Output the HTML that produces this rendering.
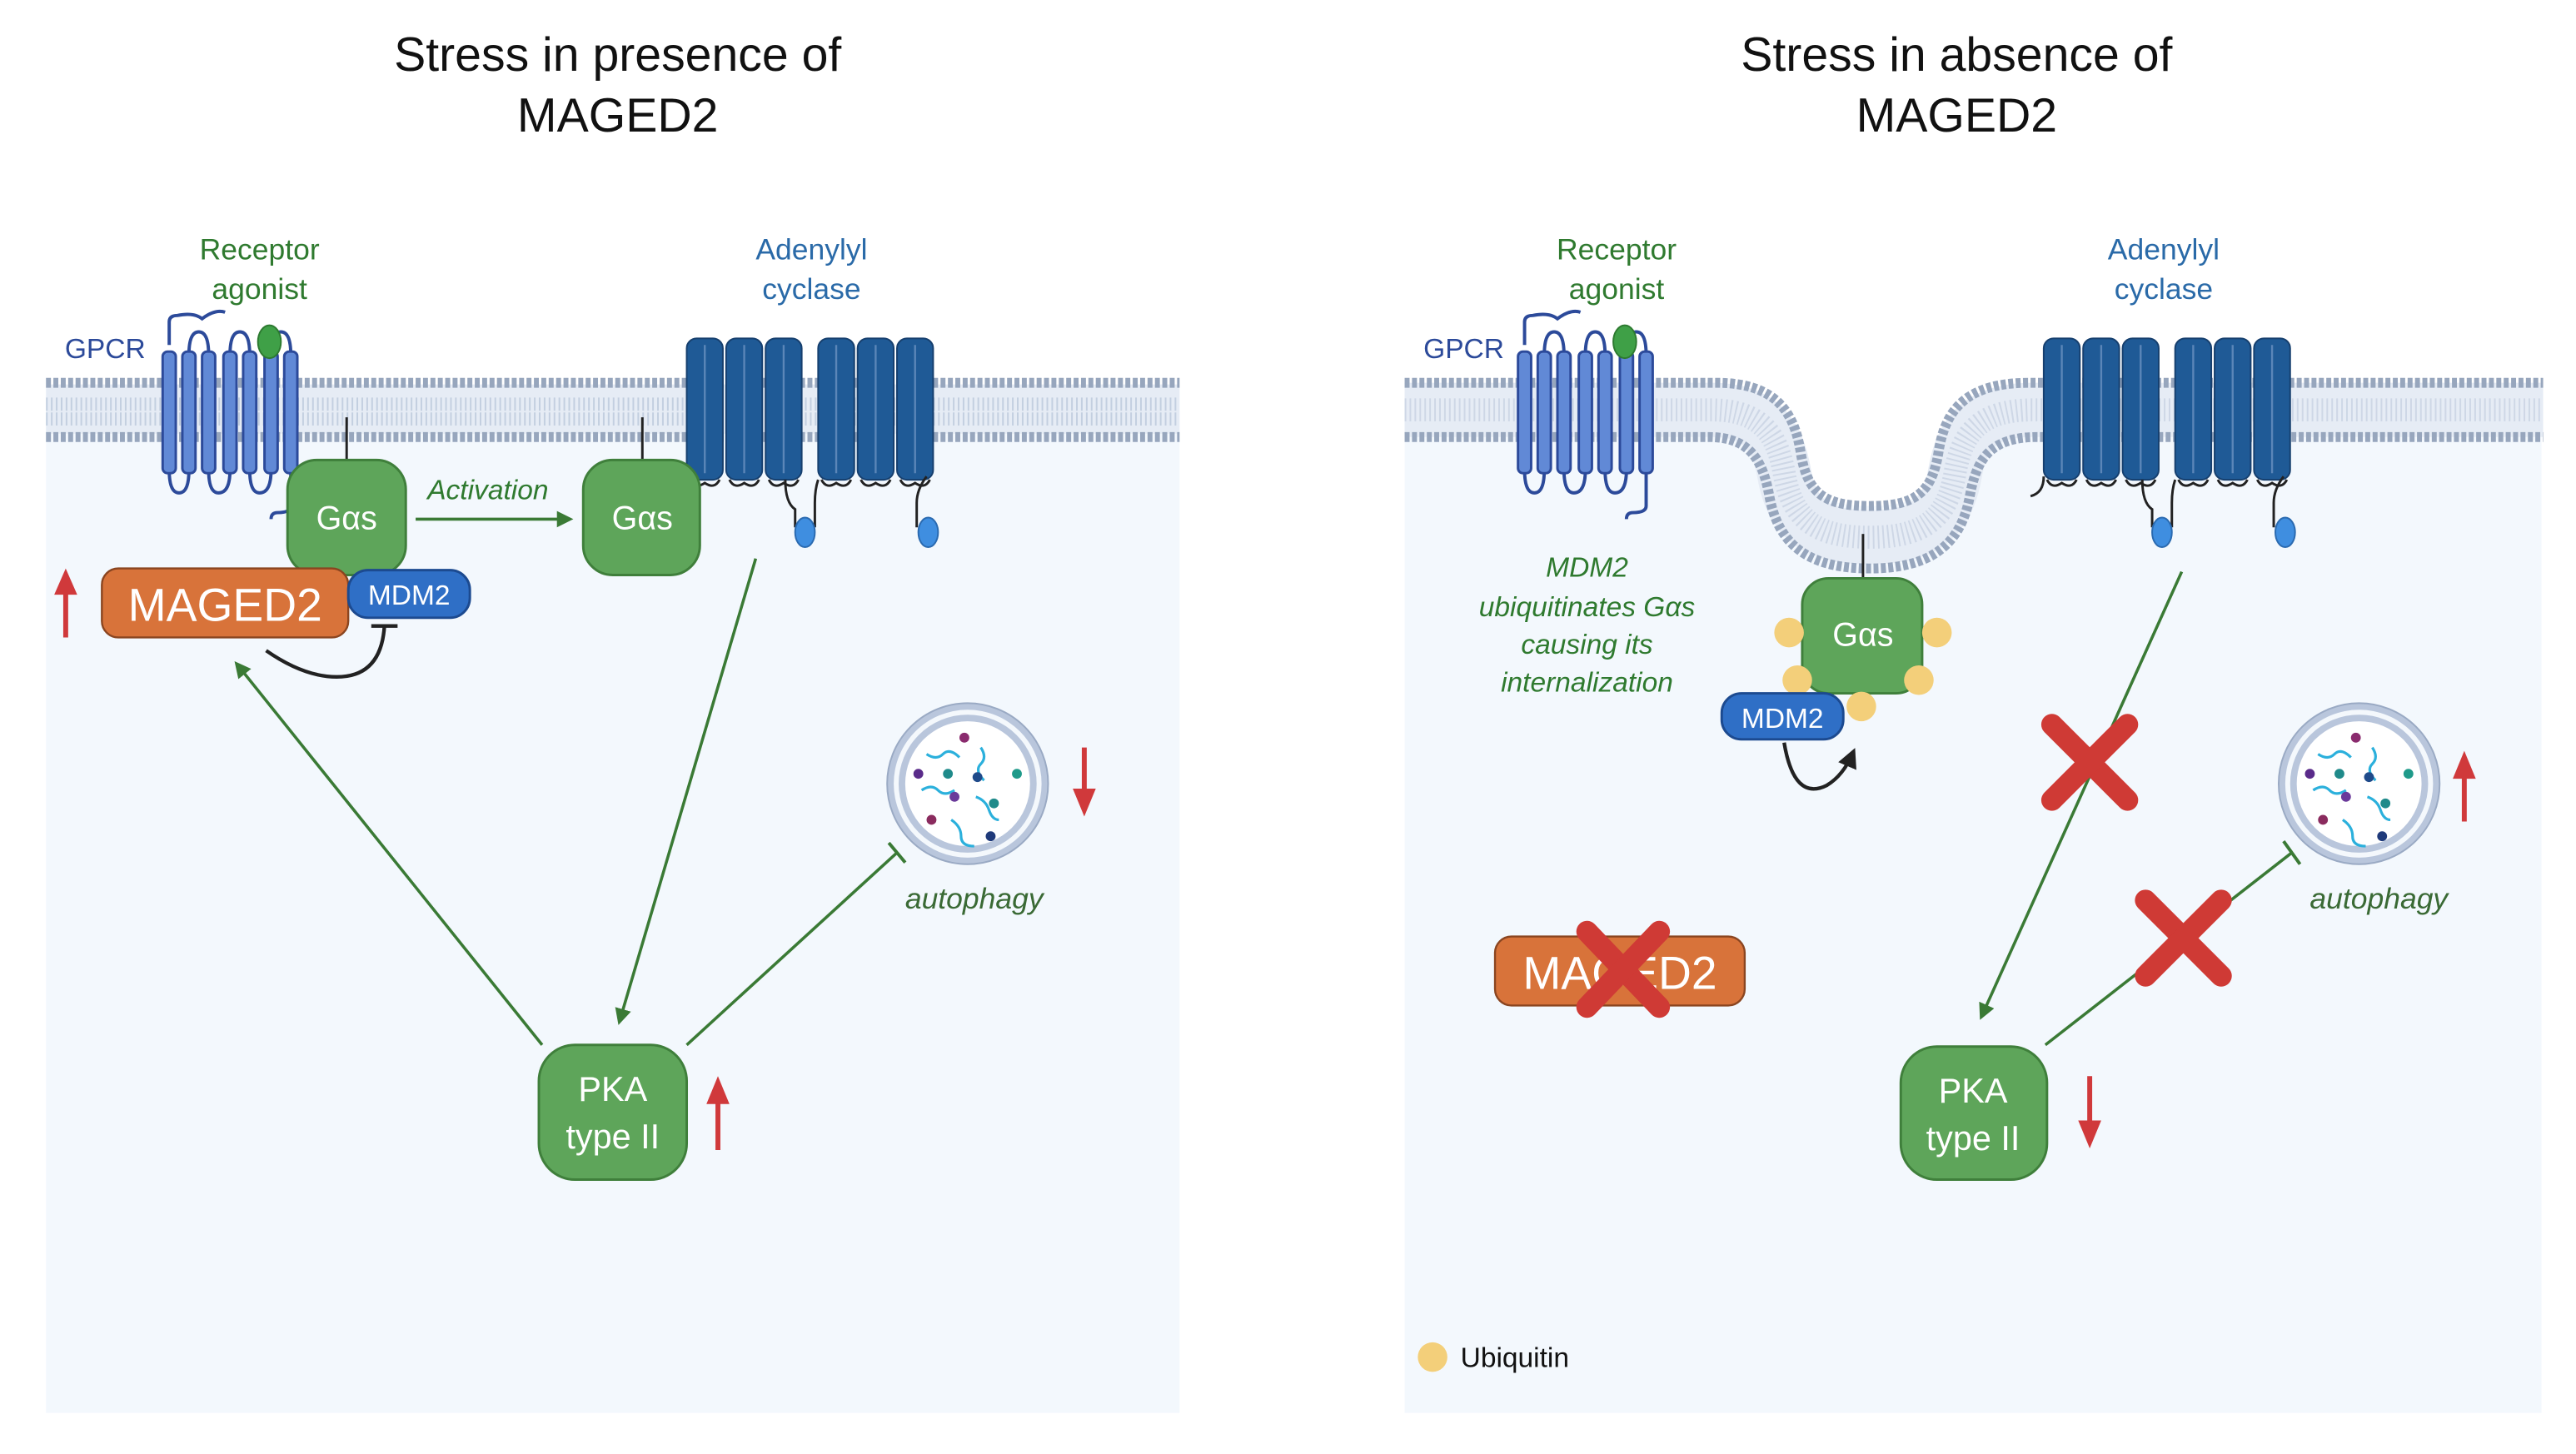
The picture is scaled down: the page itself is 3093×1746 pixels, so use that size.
<!DOCTYPE html>
<html><head><meta charset="utf-8"><style>
html,body{margin:0;padding:0;background:#fff}
svg{display:block}
text{font-family:"Liberation Sans",sans-serif}
</style></head><body>
<svg width="3093" height="1746" viewBox="0 0 1568 885" preserveAspectRatio="none" xmlns="http://www.w3.org/2000/svg">
<defs>
<marker id="ag" markerWidth="10" markerHeight="10" refX="8" refY="5" orient="auto" markerUnits="userSpaceOnUse"><path d="M0,0 L10,5 L0,10 Z" fill="#3a7a35"/></marker>
<marker id="ab" markerWidth="12" markerHeight="12" refX="9" refY="6" orient="auto" markerUnits="userSpaceOnUse"><path d="M0,0 L12,6 L0,12 Z" fill="#222"/></marker>
<g id="gpcr">
  <path d="M0,12 V-2 Q0,-6 5,-6 Q15,-8 20,-4 Q28,-10 34,-8" fill="none" stroke="#2c4a9a" stroke-width="2"/>
  <g fill="none" stroke="#2c4a9a" stroke-width="2">
    <path d="M12,18 Q12,4 18,4 Q24,4 24,18"/>
    <path d="M37,18 Q37,4 43,4 Q49,4 49,18"/>
    <path d="M62,18 Q62,4 68,4 Q74,4 74,18"/>
    <path d="M0,88 Q0,102 6,102 Q12,102 12,88"/>
    <path d="M24,88 Q24,102 30,102 Q37,102 37,88"/>
    <path d="M49,88 Q49,102 55,102 Q62,102 62,88"/>
    <path d="M74,88 V110 Q74,114 66,114 Q62,114 62,118"/>
  </g>
  <g fill="#6189d6" stroke="#2c4a9a" stroke-width="1.5">
    <rect x="-4" y="16" width="8" height="74" rx="3"/>
    <rect x="8" y="16" width="8" height="74" rx="3"/>
    <rect x="20" y="16" width="8" height="74" rx="3"/>
    <rect x="33" y="16" width="8" height="74" rx="3"/>
    <rect x="45" y="16" width="8" height="74" rx="3"/>
    <rect x="58" y="16" width="8" height="74" rx="3"/>
    <rect x="70" y="16" width="8" height="74" rx="3"/>
  </g>
  <ellipse cx="61" cy="10" rx="7" ry="10" fill="#3fa047" stroke="#2d7a30" stroke-width="1"/>
</g>
<g id="hp">
  <rect x="0" y="0" width="22" height="86" rx="6" fill="#1f5a96" stroke="#163f6e" stroke-width="1"/>
  <line x1="11" y1="4" x2="11" y2="82" stroke="#5b86b8" stroke-width="1.2"/>
  <path d="M2,86 Q5,92 11,88 Q17,92 20,86" fill="none" stroke="#222" stroke-width="1.5"/>
</g>
<g id="ac">
  <use href="#hp" x="0"/><use href="#hp" x="24"/><use href="#hp" x="48"/>
  <use href="#hp" x="80"/><use href="#hp" x="104"/><use href="#hp" x="128"/>
  <path d="M60,86 Q60,100 66,104 L66,115 M78,115 V100 Q78,92 80,86" fill="none" stroke="#222" stroke-width="1.5"/>
  <ellipse cx="72" cy="118" rx="6" ry="9" fill="#3f8ee0" stroke="#2a6ab0"/>
  <path d="M140,115 V100 Q140,92 146,84" fill="none" stroke="#222" stroke-width="1.5"/>
  <ellipse cx="147" cy="118" rx="6" ry="9" fill="#3f8ee0" stroke="#2a6ab0"/>
</g>
<g id="auto">
  <circle r="49" fill="#b9c6dc"/><circle r="45" fill="#f4f8fc"/><circle r="42" fill="#b9c6dc"/><circle r="38" fill="#fff"/>
  <circle r="49" fill="none" stroke="#9aaac4" stroke-width="1"/>
  <g fill="none" stroke="#2bb0dc" stroke-width="1.6">
    <path d="M-25,-18 q6,4 10,0 t10,2"/><path d="M8,-22 q4,6 0,10 t2,10"/>
    <path d="M-28,4 q6,-4 10,0 t10,0"/><path d="M5,8 q6,2 8,8 t6,6"/><path d="M-10,22 q6,4 6,10 t8,6"/>
  </g>
  <g><circle cx="-2" cy="-28" r="3" fill="#8a2b6e"/><circle cx="-30" cy="-6" r="3" fill="#5a2b8a"/><circle cx="-12" cy="-6" r="3" fill="#1f8a8a"/><circle cx="6" cy="-4" r="3" fill="#1f4a8a"/><circle cx="30" cy="-6" r="3" fill="#1f9a8a"/><circle cx="-8" cy="8" r="3" fill="#6a3a9a"/><circle cx="16" cy="12" r="3" fill="#1f8a8a"/><circle cx="-22" cy="22" r="3" fill="#8a2b5e"/><circle cx="14" cy="32" r="3" fill="#1f3a7a"/></g>
</g>
</defs>

<!-- panel backgrounds -->
<rect x="28" y="250" width="690" height="610" fill="#f3f8fd"/>
<rect x="855" y="250" width="692" height="610" fill="#f3f8fd"/>

<!-- titles -->
<text x="376" y="43" font-size="29" text-anchor="middle" fill="#111">Stress in presence of</text>
<text x="376" y="80" font-size="29" text-anchor="middle" fill="#111">MAGED2</text>
<text x="1191" y="43" font-size="29" text-anchor="middle" fill="#111">Stress in absence of</text>
<text x="1191" y="80" font-size="29" text-anchor="middle" fill="#111">MAGED2</text>

<!-- left membrane -->
<g>
  <rect x="28" y="234" width="690" height="30" fill="#e6ecf5"/>
  <line x1="28" y1="246" x2="718" y2="246" stroke="#c3cfe0" stroke-width="8" stroke-dasharray="1 2"/>
  <line x1="28" y1="255" x2="718" y2="255" stroke="#c3cfe0" stroke-width="8" stroke-dasharray="1 2"/>
  <line x1="28" y1="233" x2="718" y2="233" stroke="#97a6bd" stroke-width="6" stroke-dasharray="3 1.5"/>
  <line x1="28" y1="266" x2="718" y2="266" stroke="#97a6bd" stroke-width="6" stroke-dasharray="3 1.5"/>
</g>
<!-- right membrane -->
<path d="M855,226 H1548 V233 H1235 C1196,233 1184,250 1180,275 C1176,300 1166,308 1138,308 C1110,308 1100,300 1096,275 C1092,250 1080,233 1045,233 H855 Z" fill="#fff"/>
<g fill="none">
  <path d="M855,249.5 H1042 C1072,249.5 1082,265 1086,288 C1091,318 1108,327 1138,327 C1168,327 1185,318 1190,288 C1194,265 1204,249.5 1237,249.5 H1548" stroke="#e6ecf5" stroke-width="33"/>
  <path d="M855,249.5 H1042 C1072,249.5 1082,265 1086,288 C1091,318 1108,327 1138,327 C1168,327 1185,318 1190,288 C1194,265 1204,249.5 1237,249.5 H1548" stroke="#c3cfe0" stroke-width="14" stroke-dasharray="1 2" opacity="0.7"/>
  <path d="M855,233 H1045 C1080,233 1092,250 1096,275 C1100,300 1110,308 1138,308 C1166,308 1176,300 1180,275 C1184,250 1196,233 1235,233 H1548" stroke="#97a6bd" stroke-width="6" stroke-dasharray="3 1.5"/>
  <path d="M855,266 H1040 C1065,266 1073,280 1077,302 C1083,335 1105,346 1138,346 C1171,346 1193,335 1199,302 C1203,280 1211,266 1240,266 H1548" stroke="#97a6bd" stroke-width="6" stroke-dasharray="3 1.5"/>
</g>

<!-- left GPCR and AC -->
<text x="158" y="158" font-size="18" text-anchor="middle" fill="#2f7a2f">Receptor</text>
<text x="158" y="182" font-size="18" text-anchor="middle" fill="#2f7a2f">agonist</text>
<text x="64" y="218" font-size="17" text-anchor="middle" fill="#2c4a9a">GPCR</text>
<use href="#gpcr" x="103" y="198"/>
<text x="494" y="158" font-size="18" text-anchor="middle" fill="#2a6aa8">Adenylyl</text>
<text x="494" y="182" font-size="18" text-anchor="middle" fill="#2a6aa8">cyclase</text>
<use href="#ac" x="418" y="206"/>

<!-- left Gas -->
<line x1="211" y1="254" x2="211" y2="282" stroke="#222" stroke-width="1.5"/>
<rect x="175" y="280" width="72" height="70" rx="18" fill="#5ea55a" stroke="#3f7f3b" stroke-width="1.5"/>
<text x="211" y="322" font-size="20" text-anchor="middle" fill="#fff">Gαs</text>
<line x1="391" y1="254" x2="391" y2="282" stroke="#222" stroke-width="1.5"/>
<rect x="355" y="280" width="71" height="70" rx="18" fill="#5ea55a" stroke="#3f7f3b" stroke-width="1.5"/>
<text x="391" y="322" font-size="20" text-anchor="middle" fill="#fff">Gαs</text>
<text x="297" y="304" font-size="17" font-style="italic" text-anchor="middle" fill="#2f7a2f">Activation</text>
<line x1="253" y1="316" x2="347" y2="316" stroke="#3a7a35" stroke-width="1.8" marker-end="url(#ag)"/>

<!-- MAGED2/MDM2 -->
<rect x="62" y="346" width="150" height="42" rx="10" fill="#d8733a" stroke="#8a4520" stroke-width="1.2"/>
<text x="137" y="378" font-size="28" text-anchor="middle" fill="#fff">MAGED2</text>
<rect x="212" y="347" width="74" height="29" rx="12" fill="#2f6fc6" stroke="#1c4a90" stroke-width="1.5"/>
<text x="249" y="368" font-size="17" text-anchor="middle" fill="#fff">MDM2</text>
<path d="M40,388 V358" stroke="#d0393b" stroke-width="3"/><path d="M33,362 L40,346 L47,362 Z" fill="#d0393b"/>
<path d="M162,396 Q185,412 205,412 Q232,412 234,381" fill="none" stroke="#222" stroke-width="2.2"/>
<line x1="226" y1="381" x2="242" y2="381" stroke="#222" stroke-width="2.2"/>

<!-- left arrows -->
<line x1="460" y1="340" x2="377" y2="622" stroke="#3a7a35" stroke-width="1.8" marker-end="url(#ag)"/>
<line x1="330" y1="636" x2="144" y2="404" stroke="#3a7a35" stroke-width="1.8" marker-end="url(#ag)"/>
<line x1="418" y1="636" x2="546" y2="519" stroke="#3a7a35" stroke-width="1.8"/>
<line x1="541" y1="513" x2="551" y2="525" stroke="#3a7a35" stroke-width="2"/>

<use href="#auto" x="589" y="477"/>
<text x="593" y="553" font-size="18" font-style="italic" text-anchor="middle" fill="#3a6a35">autophagy</text>
<path d="M660,455 V482" stroke="#d0393b" stroke-width="3"/><path d="M653,480 L660,497 L667,480 Z" fill="#d0393b"/>

<rect x="328" y="636" width="90" height="82" rx="22" fill="#5ea55a" stroke="#3f7f3b" stroke-width="1.5"/>
<text x="373" y="670" font-size="21" text-anchor="middle" fill="#fff">PKA</text>
<text x="373" y="699" font-size="21" text-anchor="middle" fill="#fff">type II</text>
<path d="M437,700 V670" stroke="#d0393b" stroke-width="3"/><path d="M430,672 L437,655 L444,672 Z" fill="#d0393b"/>

<!-- RIGHT -->
<text x="984" y="158" font-size="18" text-anchor="middle" fill="#2f7a2f">Receptor</text>
<text x="984" y="182" font-size="18" text-anchor="middle" fill="#2f7a2f">agonist</text>
<text x="891" y="218" font-size="17" text-anchor="middle" fill="#2c4a9a">GPCR</text>
<use href="#gpcr" x="928" y="198"/>
<text x="1317" y="158" font-size="18" text-anchor="middle" fill="#2a6aa8">Adenylyl</text>
<text x="1317" y="182" font-size="18" text-anchor="middle" fill="#2a6aa8">cyclase</text>
<use href="#ac" x="1244" y="206"/>
<path d="M1244,290 Q1244,300 1236,302" fill="none" stroke="#222" stroke-width="1.5"/>

<g font-size="17" font-style="italic" text-anchor="middle" fill="#2f7a2f">
<text x="966" y="351">MDM2</text>
<text x="966" y="375">ubiquitinates Gαs</text>
<text x="966" y="398">causing its</text>
<text x="966" y="421">internalization</text>
</g>

<line x1="1134" y1="325" x2="1134" y2="354" stroke="#222" stroke-width="1.5"/>
<rect x="1097" y="352" width="73" height="70" rx="16" fill="#5ea55a" stroke="#3f7f3b" stroke-width="1.5"/>
<text x="1134" y="393" font-size="20" text-anchor="middle" fill="#fff">Gαs</text>
<g fill="#f3cf7a"><circle cx="1089" cy="385" r="9"/><circle cx="1179" cy="385" r="9"/><circle cx="1094" cy="414" r="9"/><circle cx="1168" cy="414" r="9"/><circle cx="1133" cy="430" r="9"/></g>
<rect x="1048" y="422" width="74" height="28" rx="12" fill="#2f6fc6" stroke="#1c4a90" stroke-width="1.5"/>
<text x="1085" y="443" font-size="17" text-anchor="middle" fill="#fff">MDM2</text>
<path d="M1086,452 Q1092,488 1112,478 Q1122,472 1128,458" fill="none" stroke="#222" stroke-width="2.2" marker-end="url(#ab)"/>

<line x1="1328" y1="348" x2="1206" y2="619" stroke="#3a7a35" stroke-width="1.8" marker-end="url(#ag)"/>
<line x1="1245" y1="636" x2="1395" y2="519" stroke="#3a7a35" stroke-width="1.8"/>
<line x1="1390" y1="512" x2="1400" y2="526" stroke="#3a7a35" stroke-width="2"/>
<g stroke="#cf3a35" stroke-width="13" stroke-linecap="round">
<line x1="1249" y1="441" x2="1295" y2="487"/><line x1="1295" y1="441" x2="1249" y2="487"/>
<line x1="1306" y1="548" x2="1352" y2="594"/><line x1="1352" y1="548" x2="1306" y2="594"/>
</g>

<use href="#auto" x="1436" y="477"/>
<text x="1448" y="553" font-size="18" font-style="italic" text-anchor="middle" fill="#3a6a35">autophagy</text>
<path d="M1500,500 V472" stroke="#d0393b" stroke-width="3"/><path d="M1493,474 L1500,457 L1507,474 Z" fill="#d0393b"/>

<rect x="910" y="570" width="152" height="42" rx="10" fill="#d8733a" stroke="#8a4520" stroke-width="1.2"/>
<text x="986" y="602" font-size="28" text-anchor="middle" fill="#fff">MAGED2</text>
<g stroke="#cf3a35" stroke-width="13" stroke-linecap="round">
<line x1="966" y1="567" x2="1010" y2="613"/><line x1="1010" y1="567" x2="966" y2="613"/>
</g>

<rect x="1157" y="637" width="89" height="81" rx="22" fill="#5ea55a" stroke="#3f7f3b" stroke-width="1.5"/>
<text x="1201" y="671" font-size="21" text-anchor="middle" fill="#fff">PKA</text>
<text x="1201" y="700" font-size="21" text-anchor="middle" fill="#fff">type II</text>
<path d="M1272,655 V684" stroke="#d0393b" stroke-width="3"/><path d="M1265,682 L1272,699 L1279,682 Z" fill="#d0393b"/>

<circle cx="872" cy="826" r="9" fill="#f3cf7a"/>
<text x="889" y="832" font-size="17" fill="#111">Ubiquitin</text>
</svg>
</body></html>
